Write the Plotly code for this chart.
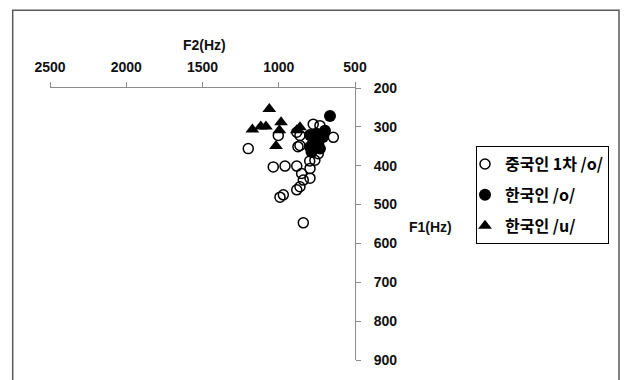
import plotly.graph_objects as go

# Chinese speakers, 1st recording, /o/
cn_o_f2 = [1200, 1003, 1036, 959, 882, 850, 839, 795, 795, 861, 882, 970, 992, 839,
           774, 730, 642, 861, 861, 763, 882, 741, 874, 797]
cn_o_f1 = [356, 322, 403, 401, 401, 420, 437, 432, 407, 454, 462, 475, 481, 547,
           293, 297, 327, 322, 348, 386, 314, 369, 351, 388]

# Korean speakers /o/
ko_o_f2 = [664, 697, 774, 795, 741, 785, 751, 710, 795, 730]
ko_o_f1 = [272, 310, 339, 352, 344, 365, 318, 326, 321, 356]

# Korean speakers /u/
ko_u_f2 = [1062, 1173, 1118, 1084, 985, 996, 1018, 882, 861]
ko_u_f1 = [254, 307, 299, 299, 288, 309, 349, 309, 301]

f2_ticks = [2500, 2000, 1500, 1000, 500]
f1_ticks = [200, 300, 400, 500, 600, 700, 800, 900]

names = ["중국인 1차 /o/", "한국인 /o/", "한국인 /u/"]

fig = go.Figure()
fig.add_trace(go.Scatter(
    x=cn_o_f2, y=cn_o_f1, mode="markers", name=names[0], legendgroup="a",
    marker=dict(symbol="circle-open", size=10, color="black", line=dict(width=1.5, color="black")),
))
fig.add_trace(go.Scatter(
    x=ko_o_f2, y=ko_o_f1, mode="markers", name=names[1], legendgroup="b",
    marker=dict(symbol="circle", size=12, color="black"),
))
fig.add_trace(go.Scatter(
    x=ko_u_f2, y=ko_u_f1, mode="markers", name=names[2], legendgroup="c",
    marker=dict(symbol="triangle-up", size=12, color="black"),
))

axis_col = "#8c8c8c"
tickfont = dict(family="Liberation Sans", size=14, color="#111111", weight="bold")

fig.update_xaxes(
    side="top", range=[2500, 500], tickvals=f2_ticks, ticktext=[str(v) for v in f2_ticks],
    ticks="outside", ticklen=5, tickcolor=axis_col, showline=True, linecolor=axis_col,
    linewidth=1, showgrid=False, zeroline=False, tickfont=tickfont, ticklabelstandoff=4,
)
fig.update_yaxes(
    side="right", range=[900, 200], tickvals=f1_ticks, ticktext=[str(v) for v in f1_ticks],
    ticks="outside", ticklen=5, tickcolor=axis_col, showline=True, linecolor=axis_col,
    linewidth=1, showgrid=False, zeroline=False, tickfont=tickfont, ticklabelstandoff=10,
)

W, H = 627, 380
L, R, T, B = 50, 272, 88, 16
pw, ph = W - L - R, H - T - B

def px(x):
    return (x - L) / pw

def py(y):
    return (H - B - y) / ph

fig.update_layout(
    width=W, height=H,
    margin=dict(l=L, r=R, t=T, b=B),
    plot_bgcolor="white", paper_bgcolor="white",
    showlegend=True,
    legend=dict(
        x=px(476), y=py(147), xanchor="left", yanchor="top",
        bordercolor="black", borderwidth=1, bgcolor="white",
        font=dict(family="Noto Sans CJK KR", size=16, color="black", weight="bold"),
        itemwidth=30, tracegroupgap=7, indentation=-12,
    ),
    annotations=[
        dict(text="F2(Hz)", xref="paper", yref="paper", x=px(204), y=py(44),
             xanchor="center", yanchor="middle", showarrow=False,
             font=dict(family="Liberation Sans", size=14, color="#111111", weight="bold")),
        dict(text="F1(Hz)", xref="paper", yref="paper", x=px(430), y=py(229),
             xanchor="center", yanchor="middle", showarrow=False,
             font=dict(family="Liberation Sans", size=14, color="#111111", weight="bold")),
    ],
    shapes=[
        dict(type="rect", xref="paper", yref="paper",
             x0=px(12.7), x1=px(619), y0=py(390), y1=py(9),
             line=dict(color="#595959", width=1.5), fillcolor="rgba(0,0,0,0)", layer="below"),
    ],
)

fig.write_html("out.html", config={"displayModeBar": False},
               post_script="document.body.style.margin='0';")
